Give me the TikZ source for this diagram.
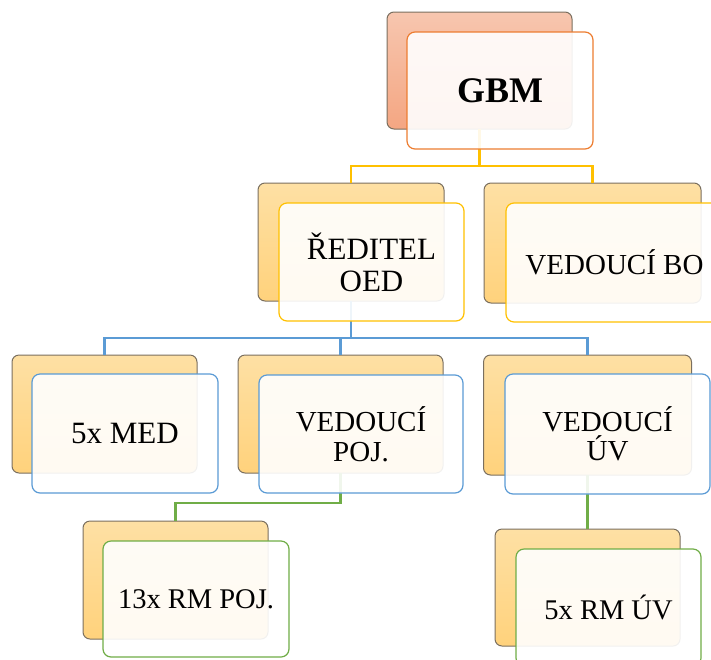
\documentclass[tikz,border=0pt]{standalone}
\usepackage{fontspec}
\setmainfont{Liberation Serif}
\definecolor{accOrange}{HTML}{ED7D31}
\definecolor{accGold}{HTML}{FFC000}
\definecolor{accBlue}{HTML}{5B9BD5}
\definecolor{accGreen}{HTML}{70AD47}
\definecolor{backEdge}{HTML}{7A6F5F}
\definecolor{sandTop}{HTML}{FEE0A4}
\definecolor{sandBot}{HTML}{FFD27C}
\definecolor{salmonTop}{HTML}{F7C6AF}
\definecolor{salmonBot}{HTML}{F4A682}
\tikzset{
  backbox/.style={draw=backEdge, line width=1pt, rounded corners=7pt,
    inner sep=0pt, outer sep=0pt, top color=sandTop, bottom color=sandBot},
  gbmback/.style={backbox, top color=salmonTop, bottom color=salmonBot},
  frontbox/.style={draw=#1, line width=1.2pt, rounded corners=8pt,
    fill=white, fill opacity=0.9, text opacity=1,
    inner sep=0pt, outer sep=0pt, align=center},
  conn/.style={draw=#1, line width=2.6pt},
  txtA/.style={font=\fontsize{31}{32}\selectfont},
  txtB/.style={font=\fontsize{29}{29.5}\selectfont},
  txtC/.style={font=\fontsize{28.5}{29}\selectfont},
}
\begin{document}
\begin{tikzpicture}[x=1pt,y=-1pt]
\useasboundingbox (0,0) rectangle (711,659);
\clip (0,0) rectangle (711,659);

% back cards
\node[gbmback, minimum width=185pt, minimum height=117pt] (gbmB) at (479.5,70.5) {};
\node[backbox, minimum width=186pt, minimum height=118pt] (redB) at (351,242) {};
\node[backbox, minimum width=217pt, minimum height=120pt] (boB) at (592.5,243) {};
\node[backbox, minimum width=185pt, minimum height=118pt] (medB) at (104.5,414) {};
\node[backbox, minimum width=205pt, minimum height=118pt] (pojB) at (340.5,414) {};
\node[backbox, minimum width=208pt, minimum height=120pt] (uvB) at (587.5,415) {};
\node[backbox, minimum width=185pt, minimum height=118pt] (rmpB) at (175.5,580) {};
\node[backbox, minimum width=185pt, minimum height=117pt] (rmuvB) at (587.5,587.5) {};

% bus points
\coordinate (busA) at (0,166);
\coordinate (busB) at (0,338);
\coordinate (busC) at (0,503);

% connectors
\draw[conn=accGold] (gbmB.south) -- (gbmB.south |- busA) -| (redB.north);
\draw[conn=accGold] (gbmB.south |- busA) -| (boB.north);
\draw[conn=accBlue] (redB.south) -- (redB.south |- busB) -| (medB.north);
\draw[conn=accBlue] (redB.south |- busB) -| (pojB.north);
\draw[conn=accBlue] (redB.south |- busB) -| (uvB.north);
\draw[conn=accGreen] (pojB.south) -- (pojB.south |- busC) -| (rmpB.north);
\draw[conn=accGreen] (uvB.south) -- (rmuvB.north);

% front cards with labels
\node[frontbox=accOrange, minimum width=186pt, minimum height=117pt,
  font=\fontsize{36}{38}\selectfont\bfseries] (gbm) at (500,90.5) {GBM};
\node[frontbox=accGold, minimum width=185pt, minimum height=118pt, txtA]
  (red) at (371.5,262) {ŘEDITEL\\OED};
\node[frontbox=accGold, minimum width=217pt, minimum height=119pt, txtB]
  (bo) at (614.5,262.5) {VEDOUCÍ BO};
\node[frontbox=accBlue, minimum width=186pt, minimum height=119pt, txtA]
  (med) at (125,433.5) {5x MED};
\node[frontbox=accBlue, minimum width=204pt, minimum height=118pt, txtB]
  (poj) at (361,434) {VEDOUCÍ\\POJ.};
\node[frontbox=accBlue, minimum width=205pt, minimum height=120pt, txtB]
  (uv) at (607.5,434) {VEDOUCÍ\\ÚV};
\node[frontbox=accGreen, minimum width=186pt, minimum height=116pt, txtC]
  (rmp) at (196,599) {13x RM POJ.};
\node[frontbox=accGreen, minimum width=185pt, minimum height=117pt, txtC]
  (rmuv) at (608.5,607.5) {5x RM ÚV};
\end{tikzpicture}
\end{document}
